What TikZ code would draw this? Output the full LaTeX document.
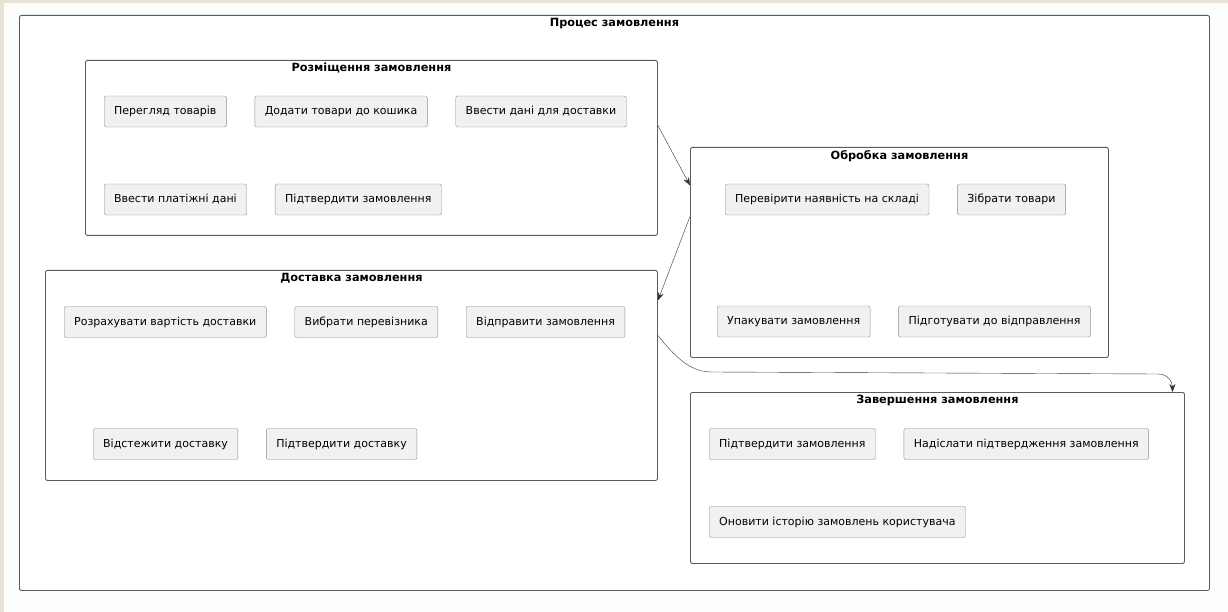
\documentclass[tikz,border=0pt]{standalone}
\usepackage{fontspec}
\setmainfont{DejaVu Sans}
\usepackage{xcolor}
\definecolor{m_paper}{HTML}{FDFDFB}
\definecolor{m_beige}{HTML}{E8E3D6}
\definecolor{m_task}{HTML}{F1F1F1}
\definecolor{m_edge}{HTML}{8E8E8E}
\definecolor{m_frame}{HTML}{5C5C5C}
\usepackage{tikz}
\usetikzlibrary{positioning,arrows.meta}

\begin{document}
\begin{tikzpicture}[
        x=1pt, y=-1pt,
        node distance=28pt,
        font=\fontsize{11}{13}\selectfont,
        task/.style={draw=m_edge,fill=m_task,rounded corners=2pt,minimum height=31pt,inner xsep=10pt,anchor=west},
        stage/.style={draw=m_frame,line width=0.9pt,fill=white,rounded corners=2pt,anchor=north west,inner sep=0pt},
        stagetitle/.style={font=\bfseries\fontsize{11.3}{13}\selectfont,anchor=north,inner sep=3pt},
        flow/.style={draw=black!80,-{Stealth[length=8pt,width=6pt]}}]
    ]
        \useasboundingbox (0,0) rectangle (1228,612);
        \fill[m_beige] (0,0) rectangle (1228,612);
        \fill[m_paper] (4,3) rectangle (1228,612);

        % frames
        \node[stage, minimum width=1190pt, minimum height=575pt] (order) at (19,15) {};
        \node[stagetitle] (ordertitle) at (order.north) {Процес замовлення};
        \node[stage, minimum width=572pt, minimum height=175pt] (place) at (85,60) {};
        \node[stagetitle] (placetitle) at (place.north) {Розміщення замовлення};
        \node[stage, minimum width=418pt, minimum height=210pt] (proc) at (690,147) {};
        \node[stagetitle] (proctitle) at (proc.north) {Обробка замовлення};
        \node[stage, minimum width=612pt, minimum height=210pt] (deliv) at (45,270) {};
        \node[stagetitle] (delivtitle) at (deliv.north) {Доставка замовлення};
        \node[stage, minimum width=494pt, minimum height=171pt] (done) at (690,392) {};
        \node[stagetitle] (donetitle) at (done.north) {Завершення замовлення};

        % placing
        \node[task] (browse) at (104,111.5) {Перегляд товарів};
        \node[task] (cart) [right = of browse] {Додати товари до кошика};
        \node[task] (shipdata) [right = of cart] {Ввести дані для доставки};
        \node[task] (paydata) at (104,199.5) {Ввести платіжні дані};
        \node[task] (confirm) [right = of paydata] {Підтвердити замовлення};

        % processing
        \node[task] (stock) at (725,199.5) {Перевірити наявність на складі};
        \node[task] (pick) [right = of stock] {Зібрати товари};
        \node[task] (pack) at (717,321.5) {Упакувати замовлення};
        \node[task] (prep) [right = of pack] {Підготувати до відправлення};

        % delivery
        \node[task] (cost) at (64,322) {Розрахувати вартість доставки};
        \node[task] (carrier) [right = of cost] {Вибрати перевізника};
        \node[task] (send) [right = of carrier] {Відправити замовлення};
        \node[task] (track) at (93,444) {Відстежити доставку};
        \node[task] (received) [right = of track] {Підтвердити доставку};

        % completion
        \node[task] (confirm2) at (709,444) {Підтвердити замовлення};
        \node[task] (notify) [right = of confirm2] {Надіслати підтвердження замовлення};
        \node[task] (history) at (709,522) {Оновити історію замовлень користувача};

        \coordinate (bendA) at (712,372);
        \coordinate (bendB) at (1158,374);
        \draw[flow] ([yshift=22.5pt]place.east) -- ([yshift=67pt]proc.west);
        \draw[flow] ([yshift=36pt]proc.west) -- ([yshift=75pt]deliv.east);
        \draw[flow] ([yshift=40pt]deliv.east) .. controls +(20,25) and +(-20,0) .. (bendA) -- (bendB) .. controls +(10,0) and +(0,-10) .. ([xshift=235pt]done.north);
    \end{tikzpicture}
\end{document}
